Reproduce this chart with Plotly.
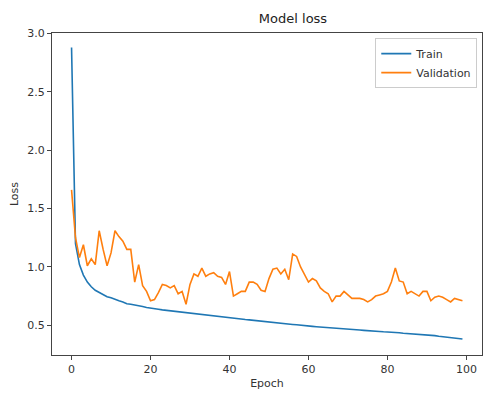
import plotly.graph_objects as go

epochs = list(range(100))
train_loss = [2.88, 1.20, 1.02, 0.93, 0.87, 0.83, 0.80, 0.78, 0.76, 0.745,
              0.735, 0.72, 0.71, 0.70, 0.685, 0.68, 0.675, 0.665, 0.66, 0.652,
              0.645, 0.643, 0.637, 0.632, 0.628, 0.622, 0.619, 0.613, 0.608, 0.604,
              0.601, 0.597, 0.592, 0.589, 0.584, 0.580, 0.577, 0.575, 0.570, 0.568,
              0.564, 0.560, 0.556, 0.553, 0.549, 0.546, 0.542, 0.539, 0.533, 0.530,
              0.527, 0.524, 0.521, 0.518, 0.513, 0.511, 0.507, 0.504, 0.499, 0.497,
              0.494, 0.490, 0.487, 0.485, 0.483, 0.480, 0.476, 0.474, 0.472, 0.469,
              0.466, 0.463, 0.463, 0.459, 0.456, 0.455, 0.452, 0.450, 0.447, 0.444,
              0.443, 0.440, 0.437, 0.436, 0.432, 0.430, 0.426, 0.424, 0.421, 0.419,
              0.417, 0.413, 0.411, 0.406, 0.402, 0.398, 0.394, 0.390, 0.386, 0.382]
val_loss = [1.66, 1.25, 1.08, 1.19, 1.01, 1.07, 1.02, 1.31, 1.15, 1.01,
            1.12, 1.31, 1.26, 1.22, 1.15, 1.15, 0.87, 1.02, 0.84, 0.79,
            0.71, 0.72, 0.78, 0.85, 0.84, 0.82, 0.84, 0.77, 0.79, 0.68,
            0.85, 0.94, 0.92, 0.99, 0.92, 0.94, 0.95, 0.92, 0.91, 0.85,
            0.96, 0.75, 0.77, 0.79, 0.79, 0.87, 0.87, 0.85, 0.80, 0.79,
            0.90, 0.98, 0.99, 0.94, 0.98, 0.89, 1.11, 1.09, 1.00, 0.93,
            0.87, 0.90, 0.88, 0.82, 0.79, 0.77, 0.70, 0.75, 0.75, 0.79,
            0.76, 0.73, 0.73, 0.73, 0.72, 0.70, 0.72, 0.75, 0.76, 0.77,
            0.79, 0.87, 0.99, 0.88, 0.87, 0.77, 0.79, 0.77, 0.75, 0.79,
            0.79, 0.71, 0.74, 0.75, 0.74, 0.72, 0.70, 0.73, 0.72, 0.71]
x_ticks = [0, 20, 40, 60, 80, 100]
y_ticks = [0.5, 1.0, 1.5, 2.0, 2.5, 3.0]

font = "DejaVu Sans"
fig = go.Figure()
fig.add_trace(go.Scatter(x=epochs, y=train_loss, mode="lines", name="Train",
                         line=dict(color="#1f77b4", width=1.6)))
fig.add_trace(go.Scatter(x=epochs, y=val_loss, mode="lines", name="Validation",
                         line=dict(color="#ff7f0e", width=1.6)))

axis_common = dict(showline=True, mirror=True, linecolor="#444", linewidth=1,
                   ticks="outside", ticklen=4, tickcolor="#444", showgrid=False,
                   zeroline=False, tickfont=dict(family=font, size=11, color="#333"))
fig.update_layout(
    width=483, height=394,
    margin=dict(l=52, r=1, t=33, b=39),
    paper_bgcolor="white", plot_bgcolor="white",
    title=dict(text="Model loss", x=(52 + 241) / 483, xanchor="center", y=1 - 18 / 394,
               yanchor="middle", font=dict(family=font, size=13, color="#222")),
    xaxis=dict(range=[-4.95, 103.95], tickvals=x_ticks,
               title=dict(text="Epoch", font=dict(family=font, size=11, color="#333"), standoff=4),
               **axis_common),
    yaxis=dict(range=[0.245, 3.005], tickvals=y_ticks, tickformat=".1f",
               title=dict(text="Loss", font=dict(family=font, size=11, color="#333"), standoff=6),
               **axis_common),
    legend=dict(x=0.989, y=0.984, xanchor="right", yanchor="top",
                bgcolor="white", bordercolor="#ccc", borderwidth=1,
                font=dict(family=font, size=11, color="#333"),
                tracegroupgap=0, itemwidth=30),
    showlegend=True,
)
fig.write_html("out.html", config={"displayModeBar": False},
               post_script="document.body.style.margin='0';document.body.style.overflow='hidden';")
